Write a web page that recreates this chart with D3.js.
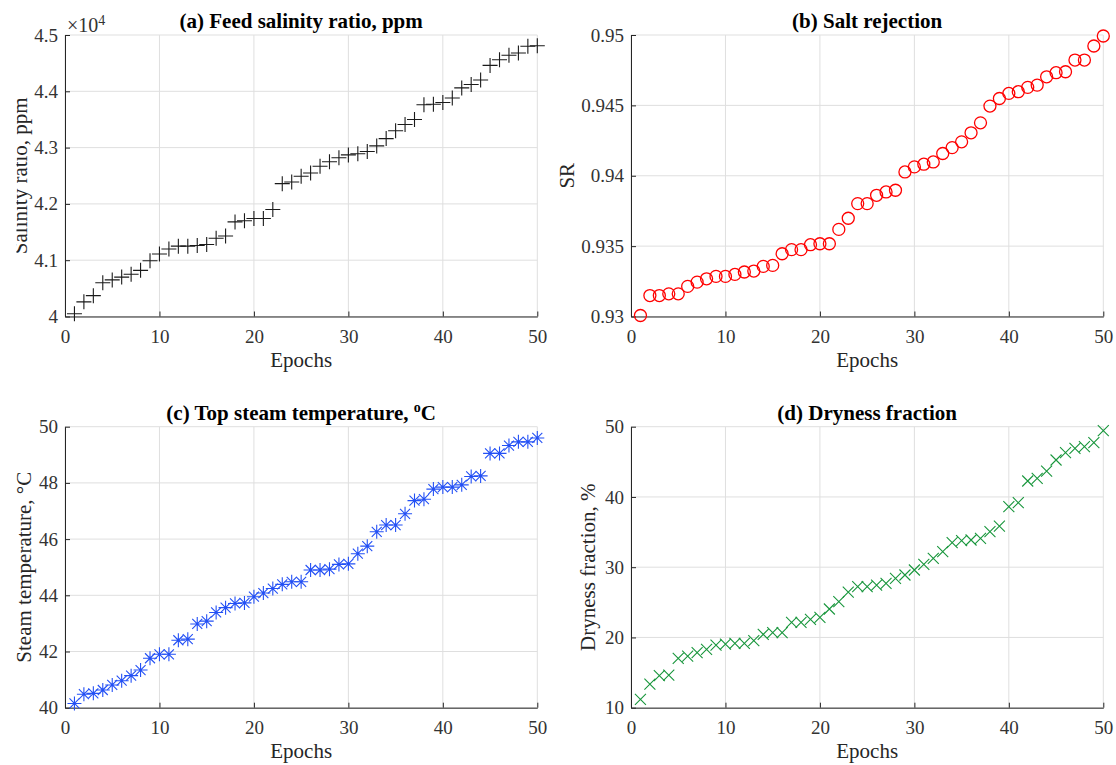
<!DOCTYPE html>
<html>
<head>
<meta charset="utf-8">
<script src="https://cdn.jsdelivr.net/npm/d3@7"></script>
<style>
  body { margin: 0; background: #fff; }
  text { font-family: "Liberation Serif", "Times New Roman", serif; }
</style>
</head>
<body>
<svg id="fig" width="1116" height="765"></svg>
<script>
// ---- data ----
const epochs = [1,2,3,4,5,6,7,8,9,10,11,12,13,14,15,16,17,18,19,20,
                21,22,23,24,25,26,27,28,29,30,31,32,33,34,35,36,37,38,39,40,
                41,42,43,44,45,46,47,48,49,50];

const feedSalinity = [40050,40260,40370,40600,40650,40700,40750,40820,40990,41110,
                      41200,41250,41250,41260,41280,41390,41430,41680,41700,41740,
                      41740,41900,42360,42390,42490,42550,42670,42750,42820,42870,
                      42890,42930,43030,43160,43300,43410,43500,43760,43770,43800,
                      43880,44060,44120,44200,44460,44560,44640,44680,44800,44810];

const saltRejection = [0.93007,0.93149,0.93149,0.93161,0.93161,0.93214,0.93244,0.93268,0.93285,0.93285,
                       0.93299,0.93316,0.93323,0.93356,0.93363,0.93446,0.93475,0.93475,0.93510,0.93517,
                       0.93517,0.93619,0.93698,0.93802,0.93802,0.93861,0.93885,0.93897,0.94027,0.94063,
                       0.94082,0.94098,0.94158,0.94200,0.94241,0.94305,0.94376,0.94495,0.94549,0.94585,
                       0.94597,0.94628,0.94644,0.94703,0.94732,0.94739,0.94822,0.94822,0.94922,0.94993];

const steamTemp = [40.15,40.48,40.51,40.63,40.81,40.96,41.14,41.34,41.76,41.90,
                   41.90,42.40,42.44,42.98,43.08,43.39,43.56,43.71,43.73,43.95,
                   44.08,44.24,44.39,44.48,44.48,44.90,44.90,44.93,45.10,45.12,
                   45.48,45.75,46.26,46.50,46.50,46.90,47.37,47.42,47.78,47.85,
                   47.85,47.93,48.23,48.25,49.05,49.05,49.33,49.46,49.46,49.60];

const dryness = [11.19,13.37,14.56,14.65,17.02,17.35,17.83,18.30,18.92,19.06,
                 19.16,19.16,19.54,20.44,20.68,20.68,22.15,22.15,22.57,22.86,
                 24.05,25.09,26.45,27.22,27.22,27.46,27.70,28.41,28.89,29.60,
                 30.40,31.26,32.21,33.49,33.77,33.87,34.10,35.05,35.86,38.61,
                 39.18,42.27,42.65,43.69,45.26,46.30,46.92,47.15,47.72,49.43];

// ---- ticks ----
const epochTicks = [0, 10, 20, 30, 40, 50];
const salinityTicks = [40000, 41000, 42000, 43000, 44000, 45000];
const salinityTickLabels = ["4", "4.1", "4.2", "4.3", "4.4", "4.5"];
const srTicks = [0.93, 0.935, 0.94, 0.945, 0.95];
const srTickLabels = ["0.93", "0.935", "0.94", "0.945", "0.95"];
const tempTicks = [40, 42, 44, 46, 48, 50];
const drynessTicks = [10, 20, 30, 40, 50];

// ---- layout & panels ----
const svg = d3.select("#fig");
const axisColor = "#262626";
const gridColor = "#dfdfdf";

// the salinity y-label sits partly under the left margin, only its lower part shows
svg.append("defs").append("clipPath").attr("id", "ylabel-clip")
  .append("rect").attr("x", 16.5).attr("y", 0).attr("width", 60).attr("height", 400);

const panels = [
  { key: "a", box: [65, 537.3, 35, 316.5], title: "(a) Feed salinity ratio, ppm",
    ylabel: "Salinity ratio, ppm", ylabelX: 26.5, ylabelClip: true,
    values: feedSalinity, domain: [40000, 45000], ticks: salinityTicks, labels: salinityTickLabels,
    marker: "plus", color: "#1a1a1a", exponent: true },
  { key: "b", box: [631, 1103.3, 35, 316.5], title: "(b) Salt rejection",
    ylabel: "SR", ylabelX: 574,
    values: saltRejection, domain: [0.93, 0.95], ticks: srTicks, labels: srTickLabels,
    marker: "circle", color: "#ff0000" },
  { key: "c", box: [65, 537.3, 426.7, 707.7], title: "(c) Top steam temperature, ",
    titleSup: "o", titleTail: "C",
    ylabel: "Steam temperature, °C", ylabelX: 31,
    values: steamTemp, domain: [40, 50], ticks: tempTicks, labels: tempTicks.map(String),
    marker: "asterisk", color: "#2350f5" },
  { key: "d", box: [631, 1103.3, 426.7, 707.7], title: "(d) Dryness fraction",
    ylabel: "Dryness fraction, %", ylabelX: 595,
    values: dryness, domain: [10, 50], ticks: drynessTicks, labels: drynessTicks.map(String),
    marker: "cross", color: "#18963c" }
];

const markerPaths = {
  plus: "M-7.5,0H7.5M0,-7.5V7.5",
  asterisk: "M-7,0H7M0,-7V7M-5,-5L5,5M-5,5L5,-5",
  cross: "M-5.5,-5.5L5.5,5.5M-5.5,5.5L5.5,-5.5"
};

panels.forEach(p => {
  const [x0, x1, y0, y1] = p.box;
  const x = d3.scaleLinear().domain([0, 50]).range([x0, x1]);
  const y = d3.scaleLinear().domain(p.domain).range([y1, y0]);
  const g = svg.append("g").attr("class", "panel-" + p.key);

  // grid
  const grid = g.append("g").attr("stroke", gridColor).attr("stroke-width", 1);
  grid.selectAll(".gx").data(epochTicks).join("line")
    .attr("x1", d => x(d)).attr("x2", d => x(d))
    .attr("y1", y0).attr("y2", y1);
  grid.selectAll(".gy").data(p.ticks).join("line")
    .attr("x1", x0).attr("x2", x1)
    .attr("y1", d => y(d)).attr("y2", d => y(d));

  // axes (box off, inward ticks)
  const xAxis = d3.axisBottom(x).tickValues(epochTicks).tickSizeInner(-5).tickSizeOuter(0).tickPadding(13);
  const yAxis = d3.axisLeft(y).tickValues(p.ticks).tickSizeInner(-5).tickSizeOuter(0).tickPadding(7)
    .tickFormat((d, i) => p.labels[i]);

  const gx = g.append("g").attr("transform", `translate(0,${y1})`).call(xAxis);
  const gy = g.append("g").attr("transform", `translate(${x0},0)`).call(yAxis);
  [gx, gy].forEach(a => {
    a.attr("font-family", null);
    a.select(".domain").attr("stroke", axisColor).attr("stroke-width", 1);
    a.selectAll(".tick line").attr("stroke", axisColor);
    a.selectAll(".tick text").attr("fill", "#333").attr("font-size", 19)
      .style("font-family", '"Liberation Serif", "Times New Roman", serif');
  });

  // markers
  const m = g.append("g");
  if (p.marker === "circle") {
    m.selectAll("circle").data(p.values).join("circle")
      .attr("cx", (d, i) => x(epochs[i])).attr("cy", d => y(d)).attr("r", 6)
      .attr("fill", "none").attr("stroke", p.color).attr("stroke-width", 1.3);
  } else {
    m.selectAll("path").data(p.values).join("path")
      .attr("transform", (d, i) => `translate(${x(epochs[i])},${y(d)})`)
      .attr("d", markerPaths[p.marker])
      .attr("fill", "none").attr("stroke", p.color).attr("stroke-width", 1.1);
  }

  // title
  const t = g.append("text")
    .attr("x", (x0 + x1) / 2).attr("y", y0 - 7)
    .attr("text-anchor", "middle").attr("font-size", 21).attr("font-weight", "bold")
    .attr("fill", "#000").text(p.title);
  if (p.titleSup) {
    t.append("tspan").attr("dy", -8).attr("font-size", 14).text(p.titleSup);
    t.append("tspan").attr("dy", 8).text(p.titleTail);
  }

  // axis labels
  g.append("text")
    .attr("x", (x0 + x1) / 2).attr("y", y1 + 50)
    .attr("text-anchor", "middle").attr("font-size", 21).attr("fill", axisColor)
    .text("Epochs");
  const yl = g.append("text")
    .attr("transform", `translate(${p.ylabelX},${(y0 + y1) / 2}) rotate(-90)`)
    .attr("text-anchor", "middle").attr("font-size", 21).attr("fill", axisColor)
    .text(p.ylabel);
  if (p.ylabelClip) {
    g.append("g").attr("clip-path", "url(#ylabel-clip)").node().appendChild(yl.node());
  }

  if (p.exponent) {
    const e = g.append("text").attr("x", x0 + 2).attr("y", y0 - 3)
      .attr("font-size", 20).attr("fill", "#333").text("×10");
    e.append("tspan").attr("dy", -7).attr("font-size", 14).text("4");
  }
});
</script>
</body>
</html>
